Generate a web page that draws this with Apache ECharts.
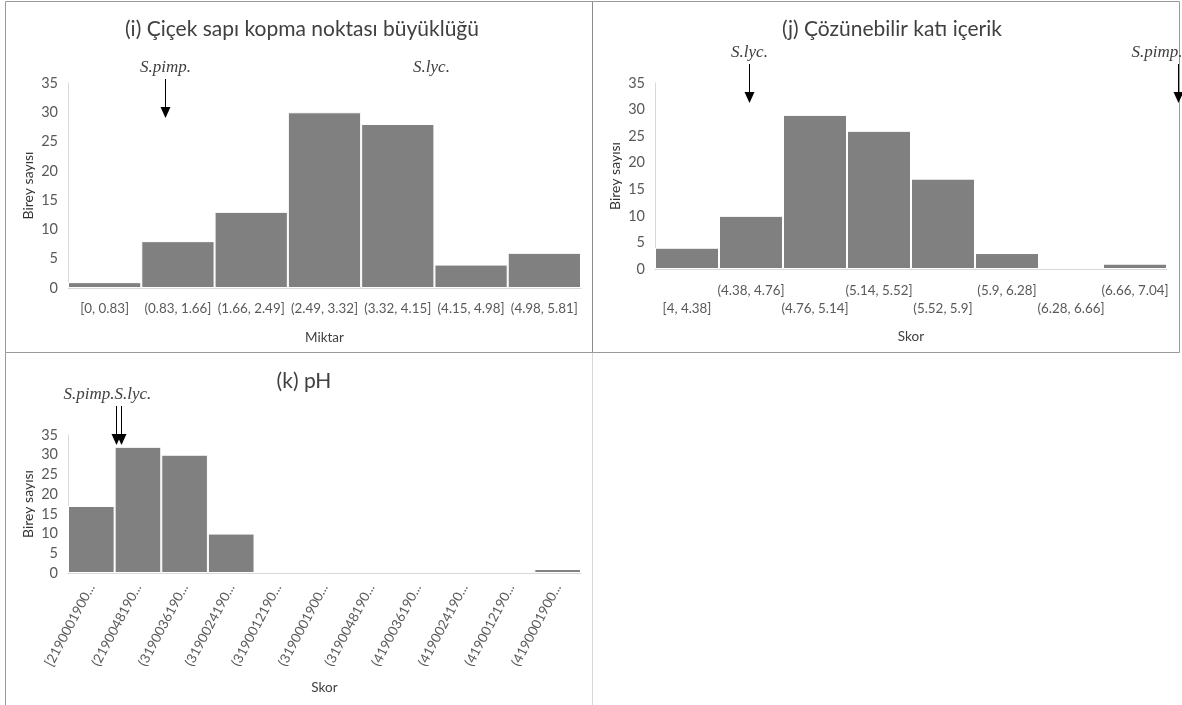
<!DOCTYPE html>
<html>
<head>
<meta charset="utf-8">
<script src="https://cdn.jsdelivr.net/npm/echarts@6/dist/echarts.min.js"></script>
<style>
  html, body { margin: 0; padding: 0; background: #ffffff; }
  #chart { width: 1182px; height: 705px; }
</style>
</head>
<body>
<div id="chart"></div>
<script>
// (i) Flower stalk abscission point size
const binsI = ['[0, 0.83]', '(0.83, 1.66]', '(1.66, 2.49]', '(2.49, 3.32]', '(3.32, 4.15]', '(4.15, 4.98]', '(4.98, 5.81]'];
const countsI = [1, 8, 13, 30, 28, 4, 6];

// (j) Soluble solids content
const binsJ = ['[4, 4.38]', '(4.38, 4.76]', '(4.76, 5.14]', '(5.14, 5.52]', '(5.52, 5.9]', '(5.9, 6.28]', '(6.28, 6.66]', '(6.66, 7.04]'];
const countsJ = [4, 10, 29, 26, 17, 3, 0, 1];

// (k) pH
const binsK = ['[2190001900...', '(2190048190...', '(3190036190...', '(3190024190...', '(3190012190...', '(3190001900...', '(3190048190...', '(4190036190...', '(4190024190...', '(4190012190...', '(4190001900...'];
const countsK = [17, 32, 30, 10, 0, 0, 0, 0, 0, 0, 1];

// Count axis
const yMin = 0, yMax = 35, yStep = 5;

// Parent markers: position in bin units along the x axis, count level of the arrow tip
const parentNamesI = ['S.pimp.', 'S.lyc.'];
const parentBinsI = [1.33, 4.96];
const parentTipsI = [29.1, 29.1];
const parentArrowsI = [true, false];

const parentNamesJ = ['S.lyc.', 'S.pimp.'];
const parentBinsJ = [1.47, 8.17];
const parentTipsJ = [31.2, 31.2];
const parentArrowsJ = [true, true];

const parentNamesK = ['S.pimp.', 'S.lyc.'];
const parentBinsK = [1.02, 1.13];
const parentTipsK = [32.5, 32.5];
const parentArrowsK = [true, true];

const SANS = 'Lato';
const TICK_COLOR = '#595959';
const TEXT_COLOR = '#404040';
const AXIS_LINE = '#d9d9d9';
const BAR_COLOR = '#808080';

// Text placement of the marker labels (align, horizontal offset in px)
const labelLayoutI = [['center', 0], ['center', 0]];
const labelLayoutJ = [['center', 0], ['right', 4]];
const labelLayoutK = [['right', -2], ['left', -7]];

const chart = echarts.init(document.getElementById('chart'), null, { renderer: 'canvas' });

function barData(values) {
  return values.map(v => ({
    value: v,
    itemStyle: v === 0 ? { borderWidth: 0 } : {}
  }));
}

function barSeries(idx, values) {
  return {
    type: 'bar',
    xAxisIndex: idx,
    yAxisIndex: idx,
    data: barData(values),
    barCategoryGap: '0%',
    itemStyle: { color: BAR_COLOR, borderColor: '#ffffff', borderWidth: 1 },
    silent: true,
    animation: false
  };
}

function markerSeries(idx, names, bins, tips, arrows, layout) {
  return {
    type: 'custom',
    xAxisIndex: 3 + idx,
    yAxisIndex: idx,
    data: bins.map((b, i) => [b, tips[i]]),
    z: 10,
    silent: true,
    animation: false,
    clip: false,
    renderItem: function (params, api) {
      const i = params.dataIndex;
      const p = api.coord([api.value(0), api.value(1)]);
      const x = Math.round(p[0]) + 0.5;
      const y = Math.round(p[1]);
      const children = [];
      if (arrows[i]) {
        children.push({
          type: 'line',
          shape: { x1: x, y1: y - 39, x2: x, y2: y - 9 },
          style: { stroke: '#000000', lineWidth: 1 }
        });
        children.push({
          type: 'polygon',
          shape: { points: [[x - 5, y - 11], [x + 5, y - 11], [x, y]] },
          style: { fill: '#000000' }
        });
      }
      children.push({
        type: 'text',
        style: {
          text: names[i],
          x: x + layout[i][1],
          y: y - 50,
          align: layout[i][0],
          verticalAlign: 'middle',
          font: 'italic 17px "Liberation Serif"',
          fill: TEXT_COLOR
        }
      });
      return { type: 'group', children: children };
    }
  };
}

function catAxis(idx, bins, name, nameGap, labelOpts) {
  return Object.assign({
    type: 'category',
    gridIndex: idx,
    data: bins,
    boundaryGap: true,
    name: name,
    nameLocation: 'middle',
    nameGap: nameGap,
    nameTextStyle: { fontFamily: SANS, fontSize: 13.5, color: TEXT_COLOR },
    axisLine: { show: true, lineStyle: { color: AXIS_LINE, width: 1 } },
    axisTick: { show: false },
    splitLine: { show: false }
  }, labelOpts);
}

function hiddenAxis(idx, n) {
  return { type: 'value', gridIndex: idx, min: 0, max: n, show: false };
}

function countAxis(idx) {
  return {
    type: 'value',
    gridIndex: idx,
    min: yMin,
    max: yMax,
    interval: yStep,
    name: 'Birey sayısı',
    nameLocation: 'middle',
    nameGap: 33,
    nameTextStyle: { fontFamily: SANS, fontSize: 14, color: '#333333' },
    axisLine: { show: true, lineStyle: { color: AXIS_LINE, width: 1 } },
    axisTick: { show: false },
    splitLine: { show: false },
    axisLabel: { fontFamily: SANS, fontSize: 14.5, color: TICK_COLOR, margin: 10 }
  };
}

const titleStyle = { fontFamily: SANS, fontSize: 21, fontWeight: 'normal', color: TEXT_COLOR };

const option = {
  animation: false,
  backgroundColor: '#ffffff',
  title: [
    { text: '(i) Çiçek sapı kopma noktası büyüklüğü', left: 297, top: 14, textAlign: 'center', textStyle: titleStyle },
    { text: '(j) Çözünebilir katı içerik', left: 887, top: 14, textAlign: 'center', textStyle: titleStyle },
    { text: '(k) pH', left: 299, top: 366, textAlign: 'center', textStyle: titleStyle }
  ],
  grid: [
    { left: 68, right: 601, top: 83, bottom: 417, containLabel: false },
    { left: 655, right: 15, top: 83, bottom: 436, containLabel: false },
    { left: 68, right: 601, top: 435, bottom: 132, containLabel: false }
  ],
  xAxis: [
    catAxis(0, binsI, 'Miktar', 43, {
      axisLabel: { interval: 0, fontFamily: SANS, fontSize: 13.4, color: TICK_COLOR, margin: 12, lineHeight: 18 }
    }),
    catAxis(1, binsJ, 'Skor', 61, {
      axisLabel: {
        interval: 0, fontFamily: SANS, fontSize: 13.4, color: TICK_COLOR, margin: 13, lineHeight: 18,
        formatter: function (value, index) { return index % 2 === 0 ? '\n' + value : value; }
      }
    }),
    catAxis(2, binsK, 'Skor', 108, {
      axisLabel: { interval: 0, rotate: 62, fontFamily: SANS, fontSize: 13.4, color: TICK_COLOR, margin: 12 }
    }),
    hiddenAxis(0, binsI.length),
    hiddenAxis(1, binsJ.length),
    hiddenAxis(2, binsK.length)
  ],
  yAxis: [countAxis(0), countAxis(1), countAxis(2)],
  series: [
    barSeries(0, countsI),
    barSeries(1, countsJ),
    barSeries(2, countsK),
    markerSeries(0, parentNamesI, parentBinsI, parentTipsI, parentArrowsI, labelLayoutI),
    markerSeries(1, parentNamesJ, parentBinsJ, parentTipsJ, parentArrowsJ, labelLayoutJ),
    markerSeries(2, parentNamesK, parentBinsK, parentTipsK, parentArrowsK, labelLayoutK)
  ],
  graphic: [
    // frame around the two upper panels
    { type: 'rect', silent: true, z: 0, shape: { x: 5.5, y: 1.5, width: 1174, height: 351 }, style: { fill: null, stroke: '#9a9a9a', lineWidth: 1 } },
    { type: 'line', silent: true, z: 0, shape: { x1: 592.5, y1: 1.5, x2: 592.5, y2: 352.5 }, style: { stroke: '#8c8c8c', lineWidth: 1 } },
    // frame of the lower panel
    { type: 'line', silent: true, z: 0, shape: { x1: 5.5, y1: 352.5, x2: 5.5, y2: 705 }, style: { stroke: '#9a9a9a', lineWidth: 1 } },
    { type: 'line', silent: true, z: 0, shape: { x1: 592.5, y1: 353, x2: 592.5, y2: 705 }, style: { stroke: '#d9d9d9', lineWidth: 1 } }
  ]
};

chart.setOption(option);
</script>
</body>
</html>
